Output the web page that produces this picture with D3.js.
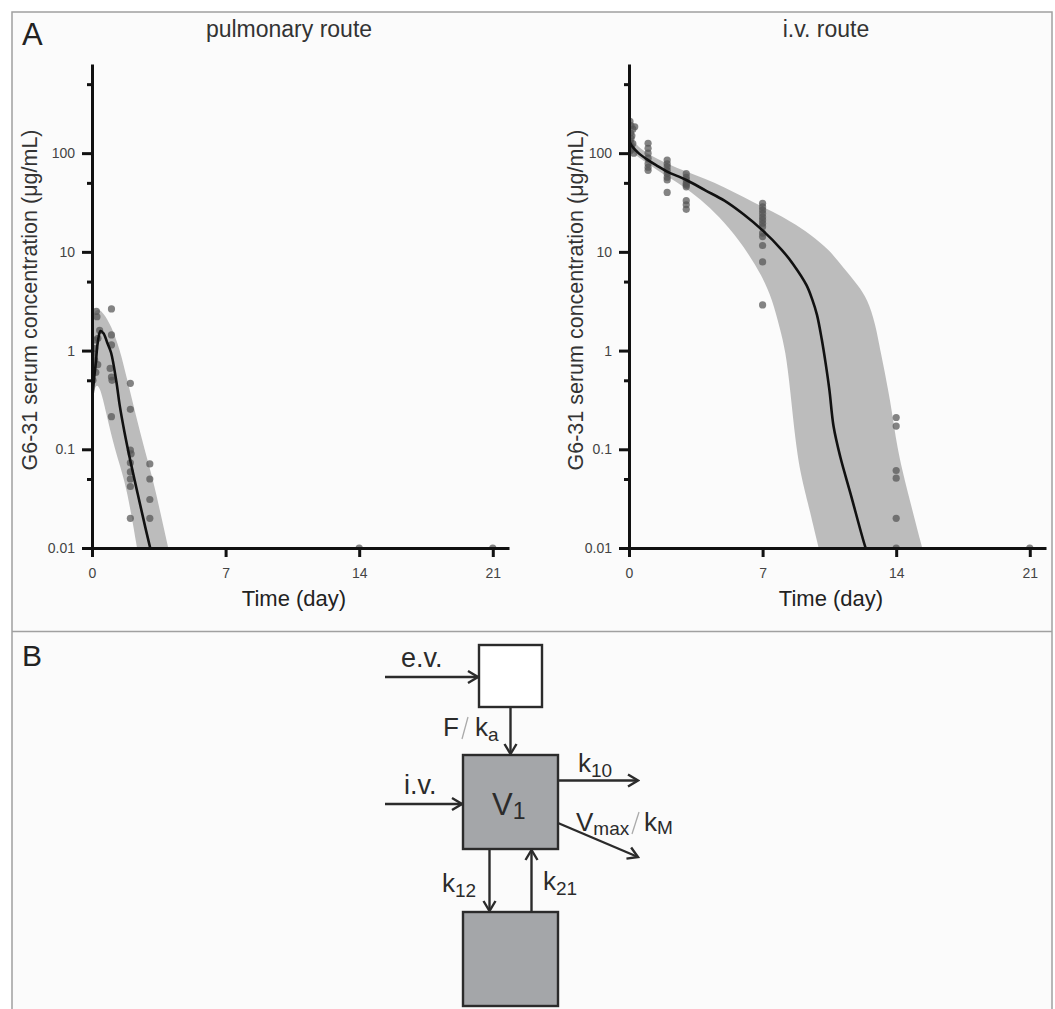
<!DOCTYPE html>
<html>
<head>
<meta charset="utf-8">
<script src="https://cdn.jsdelivr.net/npm/d3@7"></script>
<style>
  body { margin: 0; background: #fff; }
  text { font-family: "Liberation Sans", Arial, sans-serif; }
</style>
</head>
<body>
<div id="chart"></div>
<script>
// ---- axis ticks ----
const xTicks = [0, 7, 14, 21];
const yMajor = [0.01, 0.1, 1, 10, 100];
const yMinor = [0.05, 0.5, 5, 50, 500];
const yTickLabels = ["0.01", "0.1", "1", "10", "100"];

// ---- pulmonary route: observed ----
const pulmDays = [0.23, 0.26, 0.14, 0.05, 0.14, 0.05, 0.05, 0.31, 0.4, 0.3, 0.14, 0.2,
                  1.02, 1.02, 1.02, 1.02, 0.95, 1.02, 1.05,
                  2.01, 2.01, 2.01, 2.05, 2.01, 2.01, 2.01, 2.01, 2.01,
                  3.03, 3.03, 3.03, 3.03, 14, 21];
const pulmConc = [2.5, 2.2, 1.28, 0.94, 0.8, 0.68, 0.5, 1.33, 1.6, 0.72, 1.05, 0.6,
                  2.64, 1.44, 1.14, 0.54, 0.66, 0.214, 0.5,
                  0.466, 0.254, 0.098, 0.09, 0.073, 0.059, 0.05, 0.042, 0.02,
                  0.071, 0.05, 0.031, 0.02, 0.01, 0.01];
// model median and prediction band
const pulmFitDays = [0, 0.1, 0.2, 0.3, 0.45, 0.6, 0.8, 1.0, 1.28, 1.45, 1.7, 2.0, 2.4, 2.8, 3.05, 3.1];
const pulmFitConc = [0.3, 0.5, 0.75, 1.2, 1.58, 1.5, 1.2, 0.95, 0.48, 0.28, 0.15, 0.078, 0.035, 0.016, 0.01, 0.009];
const pulmUpDays = [0, 0.15, 0.35, 0.6, 1.0, 1.45, 1.85, 2.3, 2.75, 3.2, 3.6, 4.0, 4.1];
const pulmUpConc = [2.2, 2.5, 2.65, 2.4, 1.8, 1.05, 0.5, 0.22, 0.1, 0.049, 0.022, 0.01, 0.008];
const pulmLoDays = [0, 0.15, 0.4, 0.75, 1.19, 1.71, 2.06, 2.36, 2.5];
const pulmLoConc = [0.3, 0.45, 0.45, 0.23, 0.1, 0.049, 0.022, 0.01, 0.007];

// ---- i.v. route: observed ----
const ivDays = [0.05, 0.1, 0.2, 0.08, 0.15, 0.1, 0.05, 0.2, 0.1, 0.15, 0.05, 0.25, 0.3,
                1, 1, 1, 1, 1, 1, 1,
                2, 2, 2, 2, 2, 2, 2, 2,
                3, 3, 3, 3, 3, 3, 3, 3, 3,
                7, 7, 7, 7, 7, 7, 7, 7, 7, 7, 7, 7, 7,
                14, 14, 14, 14, 14, 14, 21];
const ivConc = [210, 190, 175, 160, 150, 140, 132, 125, 118, 110, 105, 100, 185,
                126, 112, 100, 89, 78, 72, 67,
                85, 78, 73, 67, 62, 57, 53.5, 40,
                62, 57, 53.5, 49.4, 47.5, 45.6, 33, 30, 27,
                31, 28.5, 26.5, 24.5, 22.5, 21, 19.5, 18, 15.5, 14.3, 11.6, 7.9, 2.9,
                0.21, 0.172, 0.061, 0.051, 0.02, 0.01, 0.01];
const ivFitDays = [0, 0.15, 0.5, 1, 1.5, 2, 3, 4, 5, 6, 7, 8, 8.6, 9.3, 9.6, 9.85, 10.1, 10.3, 10.5, 10.72, 11.07, 11.6, 12.4, 12.5];
const ivFitConc = [135, 118, 100, 85, 74, 65, 53.5, 42, 33, 24, 16.5, 10.5, 7.5, 4.6, 3.3, 2.3, 1.3, 0.75, 0.4, 0.17, 0.084, 0.036, 0.01, 0.009];
const ivUpDays = [0, 0.15, 0.5, 1, 2, 3, 4, 5, 6, 7, 8, 9, 9.5, 10.5, 11.25, 12, 12.5, 12.9, 13.17, 13.7, 14.05, 14.57, 15.36, 15.5];
const ivUpConc = [150, 135, 116, 98, 78, 65, 55, 45, 36, 28.5, 23, 17.5, 15, 10.5, 6.8, 4.6, 3.3, 1.9, 1.0, 0.316, 0.1, 0.039, 0.01, 0.008];
const ivLoDays = [0, 0.15, 0.5, 1, 2, 3, 4, 5, 6, 7, 7.5, 7.9, 8.2, 8.45, 8.72, 9.0, 9.33, 9.94, 10.05];
const ivLoConc = [120, 105, 90, 78, 58, 44, 31, 20, 11.5, 5.6, 3.3, 1.7, 1.0, 0.4, 0.12, 0.055, 0.031, 0.01, 0.008];

const W = 1055, H = 1009;
const svg = d3.select("#chart").append("svg").attr("width", W).attr("height", H);

// figure frame
svg.append("rect").attr("x", 12).attr("y", 12).attr("width", 1040).attr("height", 1012)
   .attr("fill", "#fbfbfb").attr("stroke", "#a0a0a0").attr("stroke-width", 1.5);
svg.append("line").attr("x1", 12).attr("x2", 1052).attr("y1", 631.5).attr("y2", 631.5)
   .attr("stroke", "#a0a0a0").attr("stroke-width", 1.5);

const y = d3.scaleLog().domain([0.01, 800]).range([548, 64]);
const zip = (a, b) => a.map((d, i) => [d, b[i]]);

function drawPanel(x0, title, pts, fit, up, lo, id, labelOffset) {
    const x = d3.scaleLinear().domain([0, 21.85]).range([x0, x0 + 417]);
    const g = svg.append("g");

    svg.append("clipPath").attr("id", id)
       .append("rect").attr("x", x(0)).attr("y", 40).attr("width", 420).attr("height", y(0.01) - 40);

    const line = d3.line().x(d => x(d[0])).y(d => y(d[1])).curve(d3.curveCatmullRom);
    const edge = d3.line().x(d => x(d[0])).y(d => y(d[1])).curve(d3.curveBasis);
    const upPath = edge(up);
    const loPath = edge(lo.slice().reverse());
    g.append("path").attr("clip-path", `url(#${id})`)
     .attr("d", upPath + "L" + loPath.slice(1) + "Z")
     .attr("fill", "#bcbcbc");

    g.append("g").attr("clip-path", `url(#${id})`)
     .selectAll("circle").data(pts).join("circle")
     .attr("cx", d => x(d[0])).attr("cy", d => y(d[1])).attr("r", 3.6)
     .attr("fill", "#555").attr("fill-opacity", 0.72);

    g.append("path").attr("clip-path", `url(#${id})`)
     .attr("d", line(fit)).attr("fill", "none")
     .attr("stroke", "#111").attr("stroke-width", 2.6);

    // axes
    const yAxis = g.append("g").attr("transform", `translate(${x(0)},0)`)
        .call(d3.axisLeft(y).tickValues(yMajor).tickFormat((d, i) => yTickLabels[i])
              .tickSize(10).tickSizeOuter(0).tickPadding(7));
    const yMin = g.append("g").attr("transform", `translate(${x(0)},0)`)
        .call(d3.axisLeft(y).tickValues(yMinor).tickFormat("").tickSize(5));
    yMin.select(".domain").remove();
    const xAxis = g.append("g").attr("transform", `translate(0,${y(0.01)})`)
        .call(d3.axisBottom(x).tickValues(xTicks).tickSize(9).tickSizeOuter(0).tickPadding(11));
    [yAxis, yMin, xAxis].forEach(a => {
        a.attr("font-size", null).attr("font-family", null);
        a.selectAll("path,line").attr("stroke", "#111").attr("stroke-width", 3);
        a.selectAll("text").attr("fill", "#444").style("font-size", "14px");
    });

    g.append("text").attr("x", x(0) + 197).attr("y", 37).attr("text-anchor", "middle")
     .attr("fill", "#333").style("font-size", "23px").text(title);
    g.append("text").attr("x", x(0) + 202).attr("y", 606).attr("text-anchor", "middle")
     .attr("fill", "#222").style("font-size", "22px").text("Time (day)");
    g.append("text").attr("transform", `translate(${x(0) - labelOffset},300) rotate(-90)`)
     .attr("text-anchor", "middle").attr("fill", "#333").style("font-size", "21.5px")
     .text("G6-31 serum concentration (μg/mL)");
}

drawPanel(92, "pulmonary route", zip(pulmDays, pulmConc), zip(pulmFitDays, pulmFitConc),
          zip(pulmUpDays, pulmUpConc), zip(pulmLoDays, pulmLoConc), "clipL", 55);
drawPanel(629, "i.v. route", zip(ivDays, ivConc), zip(ivFitDays, ivFitConc),
          zip(ivUpDays, ivUpConc), zip(ivLoDays, ivLoConc), "clipR", 46);

svg.append("text").attr("x", 22).attr("y", 45).attr("fill", "#222").style("font-size", "31px").text("A");
svg.append("text").attr("x", 22).attr("y", 666).attr("fill", "#222").style("font-size", "30px").text("B");

// ---- panel B: compartment model ----
const ink = "#2b2b2b";
const defs = svg.append("defs");
defs.append("marker").attr("id", "arr").attr("viewBox", "-12 -8 14 16")
    .attr("refX", 0).attr("refY", 0).attr("markerWidth", 14).attr("markerHeight", 16)
    .attr("markerUnits", "userSpaceOnUse").attr("orient", "auto")
    .append("path").attr("d", "M-10,-6L0,0L-10,6").attr("fill", "none")
    .attr("stroke", ink).attr("stroke-width", 2.4);

const boxes = [
    {x: 479, y: 645, w: 63, h: 62, fill: "#ffffff"},
    {x: 463, y: 755, w: 95, h: 94, fill: "#a4a6a9"},
    {x: 463, y: 912, w: 95, h: 94, fill: "#a4a6a9"}
];
svg.selectAll("rect.box").data(boxes).join("rect").attr("class", "box")
   .attr("x", d => d.x).attr("y", d => d.y).attr("width", d => d.w).attr("height", d => d.h)
   .attr("fill", d => d.fill).attr("stroke", ink).attr("stroke-width", 2.4);

const arrows = [
    [385, 677, 478, 677],
    [385, 804, 462, 804],
    [510.5, 707, 510.5, 754],
    [558, 780.5, 638, 780.5],
    [558, 823, 638, 857],
    [489.5, 849, 489.5, 911],
    [531.5, 912, 531.5, 850]
];
svg.selectAll("line.arr").data(arrows).join("line").attr("class", "arr")
   .attr("x1", d => d[0]).attr("y1", d => d[1]).attr("x2", d => d[2]).attr("y2", d => d[3])
   .attr("stroke", ink).attr("stroke-width", 2.4).attr("marker-end", "url(#arr)");

function subLabel(x, yb, main, sub, size, subSize, dy) {
    const t = svg.append("text").attr("x", x).attr("y", yb).attr("fill", ink).style("font-size", size + "px");
    t.append("tspan").text(main);
    if (sub) t.append("tspan").attr("dy", dy).style("font-size", subSize + "px").text(sub);
    return t;
}
subLabel(401, 667, "e.v.", null, 27);
subLabel(404, 794, "i.v.", null, 27);
subLabel(443, 736, "F", null, 26);
subLabel(475, 736, "k", "a", 26, 19, 5);
subLabel(578, 772, "k", "10", 26, 19, 5);
subLabel(576, 831, "V", "max", 26, 19, 4);
subLabel(644, 831, "k", "M", 26, 19, 3);
subLabel(442, 892, "k", "12", 26, 19, 5);
subLabel(543, 890, "k", "21", 26, 19, 5);
subLabel(492, 815, "V", "1", 31, 23, 4);

// thin grey slashes in F/ka and Vmax/kM
svg.append("line").attr("x1", 462).attr("y1", 739).attr("x2", 468).attr("y2", 717)
   .attr("stroke", "#aaa").attr("stroke-width", 1.3);
svg.append("line").attr("x1", 632).attr("y1", 834).attr("x2", 639).attr("y2", 812)
   .attr("stroke", "#aaa").attr("stroke-width", 1.3);
</script>
</body>
</html>
